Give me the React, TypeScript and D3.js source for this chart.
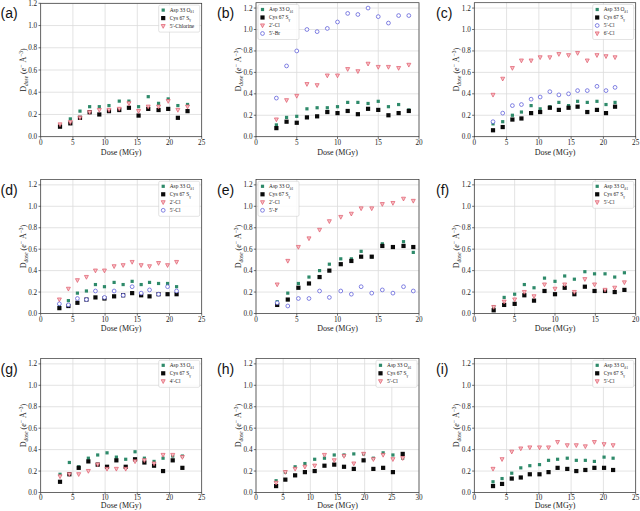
import React from 'react';
import * as d3 from 'd3';

// ---------- data ----------
const aX = [3.0, 4.6, 6.1, 7.6, 9.1, 10.6, 12.2, 13.7, 15.2, 16.7, 18.3, 19.8, 21.3, 22.8];
const aAsp = [0.10, 0.16, 0.23, 0.27, 0.27, 0.28, 0.32, 0.32, 0.27, 0.36, 0.30, 0.34, 0.28, 0.29];
const aCys = [0.09, 0.12, 0.17, 0.22, 0.20, 0.23, 0.24, 0.26, 0.19, 0.25, 0.24, 0.25, 0.17, 0.23];
const aCl5 = [0.11, 0.13, 0.17, 0.22, 0.24, 0.24, 0.25, 0.30, 0.23, 0.27, 0.27, 0.32, 0.24, 0.27];

const bX = [2.5, 3.75, 5, 6.25, 7.5, 8.75, 10, 11.25, 12.5, 13.75, 15, 16.25, 17.5, 18.75];
const bAsp = [0.11, 0.18, 0.19, 0.26, 0.27, 0.27, 0.28, 0.32, 0.32, 0.31, 0.33, 0.28, 0.30, 0.25];
const bCys = [0.08, 0.14, 0.13, 0.18, 0.19, 0.23, 0.22, 0.24, 0.21, 0.26, 0.25, 0.20, 0.22, 0.24];
const bCl2 = [0.16, 0.34, 0.38, 0.49, 0.48, 0.57, 0.57, 0.63, 0.61, 0.68, 0.65, 0.65, 0.64, 0.67];
const bBr5 = [0.36, 0.66, 0.80, 1.00, 0.98, 1.01, 1.07, 1.15, 1.14, 1.20, 1.12, 1.06, 1.13, 1.13];

const cX = [2.9, 4.4, 5.9, 7.3, 8.8, 10.2, 11.7, 13.1, 14.6, 16.0, 17.5, 19.0, 20.4, 21.8];
const cAsp = [0.12, 0.14, 0.20, 0.23, 0.29, 0.26, 0.28, 0.32, 0.29, 0.33, 0.32, 0.33, 0.30, 0.32];
const cCys = [0.06, 0.09, 0.16, 0.17, 0.22, 0.23, 0.27, 0.25, 0.27, 0.28, 0.23, 0.25, 0.22, 0.28];
const cCl5 = [0.14, 0.22, 0.29, 0.30, 0.35, 0.37, 0.42, 0.39, 0.40, 0.43, 0.43, 0.47, 0.43, 0.46];
const cCl6 = [0.39, 0.54, 0.64, 0.71, 0.71, 0.74, 0.74, 0.77, 0.76, 0.78, 0.71, 0.76, 0.75, 0.74];

const dX = [2.9, 4.3, 5.7, 7.1, 8.5, 9.9, 11.4, 12.8, 14.2, 15.6, 16.9, 18.3, 19.7, 21.1];
const dAsp = [0.08, 0.12, 0.19, 0.21, 0.27, 0.25, 0.29, 0.27, 0.30, 0.27, 0.29, 0.28, 0.28, 0.25];
const dCys = [0.05, 0.07, 0.10, 0.13, 0.15, 0.14, 0.16, 0.17, 0.19, 0.17, 0.16, 0.18, 0.18, 0.18];
const dCl2 = [0.13, 0.23, 0.31, 0.34, 0.40, 0.40, 0.44, 0.45, 0.48, 0.45, 0.44, 0.47, 0.45, 0.48];
const dCl5 = [0.09, 0.08, 0.14, 0.13, 0.21, 0.15, 0.21, 0.17, 0.25, 0.19, 0.22, 0.18, 0.25, 0.21];

const eX = [2.6, 3.9, 5.2, 6.5, 7.8, 9.0, 10.4, 11.7, 12.9, 14.2, 15.5, 16.8, 18.1, 19.3];
const eAsp = [0.11, 0.19, 0.28, 0.34, 0.40, 0.46, 0.51, 0.51, 0.58, 0.53, 0.65, 0.62, 0.67, 0.57];
const eCys = [0.08, 0.13, 0.24, 0.28, 0.34, 0.40, 0.46, 0.49, 0.53, 0.53, 0.63, 0.62, 0.63, 0.62];
const eCl2 = [0.27, 0.49, 0.62, 0.70, 0.78, 0.86, 0.90, 0.93, 0.98, 0.98, 1.02, 1.03, 1.07, 1.05];
const eF5 = [0.10, 0.07, 0.14, 0.14, 0.21, 0.15, 0.21, 0.18, 0.25, 0.19, 0.22, 0.19, 0.25, 0.21];

const fX = [2.4, 3.7, 5.0, 6.2, 7.4, 8.7, 10.0, 11.2, 12.4, 13.7, 14.9, 16.2, 17.4, 18.6];
const fAsp = [0.06, 0.15, 0.18, 0.27, 0.24, 0.33, 0.30, 0.35, 0.32, 0.39, 0.37, 0.37, 0.34, 0.38];
const fCys = [0.03, 0.08, 0.09, 0.17, 0.12, 0.21, 0.18, 0.24, 0.18, 0.25, 0.21, 0.21, 0.20, 0.22];
const fCl5 = [0.06, 0.11, 0.13, 0.20, 0.16, 0.27, 0.23, 0.27, 0.20, 0.32, 0.27, 0.22, 0.24, 0.29];

const gX = [3.0, 4.45, 5.9, 7.4, 8.85, 10.3, 11.75, 13.2, 14.65, 16.1, 17.6, 19.0, 20.5, 22.0];
const gAsp = [0.17, 0.28, 0.24, 0.32, 0.35, 0.37, 0.33, 0.31, 0.38, 0.32, 0.29, 0.32, 0.34, 0.34];
const gCys = [0.10, 0.17, 0.23, 0.29, 0.26, 0.24, 0.30, 0.24, 0.31, 0.28, 0.25, 0.20, 0.30, 0.23];
const gCl4 = [0.15, 0.17, 0.17, 0.20, 0.26, 0.22, 0.22, 0.22, 0.29, 0.30, 0.27, 0.35, 0.35, 0.33];

const hX = [3.7, 5.4, 7.2, 9.0, 10.8, 12.6, 14.4, 16.2, 18.0, 19.8, 21.6, 23.4, 25.2, 27.0];
const hAsp = [0.11, 0.19, 0.24, 0.27, 0.31, 0.32, 0.35, 0.35, 0.36, 0.36, 0.32, 0.37, 0.35, 0.32];
const hCys = [0.06, 0.12, 0.16, 0.19, 0.20, 0.25, 0.26, 0.24, 0.22, 0.30, 0.22, 0.23, 0.19, 0.36];
const hCl5 = [0.09, 0.19, 0.22, 0.24, 0.25, 0.35, 0.30, 0.34, 0.27, 0.36, 0.31, 0.35, 0.31, 0.32];

const iX = [2.9, 4.3, 5.8, 7.2, 8.6, 10.1, 11.5, 12.9, 14.4, 15.8, 17.2, 18.6, 20.1, 21.5];
const iAsp = [0.10, 0.13, 0.18, 0.23, 0.25, 0.26, 0.30, 0.31, 0.32, 0.30, 0.30, 0.29, 0.33, 0.32];
const iCys = [0.06, 0.08, 0.13, 0.14, 0.17, 0.17, 0.19, 0.23, 0.22, 0.20, 0.21, 0.23, 0.23, 0.21];
const iCl5 = [0.22, 0.31, 0.38, 0.41, 0.42, 0.42, 0.42, 0.47, 0.44, 0.44, 0.43, 0.47, 0.45, 0.44];

// ---------- styling / layout ----------
type Kind = 'asp' | 'cys' | 'tri' | 'circ';
interface Series { kind: Kind; label: string; ys: number[] }
interface PanelDef {
  letter: string; l: number; r: number; b: number; h: number; xmax: number; ymax: number;
  xs: number[]; series: Series[]; legend: 'tl' | 'tr'; lx: number; tk: number; xl: number;
}

const SERIF = '"Liberation Serif", "DejaVu Serif", serif';
const SANS = '"Liberation Sans", Arial, sans-serif';
const GREEN = '#2e8a6a';
const BLACK = '#0a0a0a';
const RED_S = '#e0586a';
const RED_F = '#f7c0c4';
const BLUE = '#5a5ad8';

const asp = (ys: number[]): Series => ({ kind: 'asp', label: 'asp', ys });
const cys = (ys: number[]): Series => ({ kind: 'cys', label: 'cys', ys });
const tri = (label: string, ys: number[]): Series => ({ kind: 'tri', label, ys });
const circ = (label: string, ys: number[]): Series => ({ kind: 'circ', label, ys });

const COLS = [{ l: 40.7, r: 201.7, lx: 0.5 }, { l: 256, r: 419, lx: 217 }, { l: 474.3, r: 635.7, lx: 436 }];
const ROWS = [
  { b: 136.7, tk: 8.6, xl: 17.8 },
  { b: 313.5, tk: 8.6, xl: 17.8 },
  { b: 492.5, tk: 7.3, xl: 15.2 },
];

const panels: PanelDef[] = [
  { letter: '(a)', ...COLS[0], ...ROWS[0], h: 133.4, xmax: 25, ymax: 1.2, xs: aX, legend: 'tr',
    series: [asp(aAsp), cys(aCys), tri('5′-Chlorine', aCl5)] },
  { letter: '(b)', ...COLS[1], ...ROWS[0], h: 134, xmax: 20, ymax: 1.25, xs: bX, legend: 'tl',
    series: [asp(bAsp), cys(bCys), tri('2′-Cl', bCl2), circ('5′-Br', bBr5)] },
  { letter: '(c)', ...COLS[2], ...ROWS[0], h: 134, xmax: 25, ymax: 1.25, xs: cX, legend: 'tr',
    series: [asp(cAsp), cys(cCys), circ('5′-Cl', cCl5), tri('6′-Cl', cCl6)] },
  { letter: '(d)', ...COLS[0], ...ROWS[1], h: 134, xmax: 25, ymax: 1.25, xs: dX, legend: 'tr',
    series: [asp(dAsp), cys(dCys), tri('2′-Cl', dCl2), circ('5′-Cl', dCl5)] },
  { letter: '(e)', ...COLS[1], ...ROWS[1], h: 134, xmax: 20, ymax: 1.25, xs: eX, legend: 'tl',
    series: [asp(eAsp), cys(eCys), tri('2′-Cl', eCl2), circ('5′-F', eF5)] },
  { letter: '(f)', ...COLS[2], ...ROWS[1], h: 134, xmax: 20, ymax: 1.25, xs: fX, legend: 'tr',
    series: [asp(fAsp), cys(fCys), tri('5′-Cl', fCl5)] },
  { letter: '(g)', ...COLS[0], ...ROWS[2], h: 134, xmax: 25, ymax: 1.25, xs: gX, legend: 'tr',
    series: [asp(gAsp), cys(gCys), tri('4′-Cl', gCl4)] },
  { letter: '(h)', ...COLS[1], ...ROWS[2], h: 134, xmax: 30, ymax: 1.25, xs: hX, legend: 'tr',
    series: [asp(hAsp), cys(hCys), tri('5′-Cl', hCl5)] },
  { letter: '(i)', ...COLS[2], ...ROWS[2], h: 134, xmax: 25, ymax: 1.25, xs: iX, legend: 'tr',
    series: [asp(iAsp), cys(iCys), tri('5′-Cl', iCl5)] },
];

function Marker({ kind, x, y }: { kind: Kind; x: number; y: number }) {
  if (kind === 'asp') return <rect x={x - 1.6} y={y - 1.6} width={3.2} height={3.2} fill={GREEN} />;
  if (kind === 'cys') return <rect x={x - 2.1} y={y - 2.1} width={4.2} height={4.2} fill={BLACK} />;
  if (kind === 'tri') {
    const s = 2.0;
    return <path d={`M${x - s},${y - s * 0.8}L${x + s},${y - s * 0.8}L${x},${y + s * 1.1}Z`}
      fill={RED_F} stroke={RED_S} strokeWidth={0.7} />;
  }
  return <circle cx={x} cy={y} r={1.9} fill="white" stroke={BLUE} strokeWidth={0.75} />;
}

function LegendLabel({ s }: { s: Series }) {
  if (s.kind === 'asp') return <>Asp 33 O<tspan dy={1.3} fontSize={3.8}>δ1</tspan></>;
  if (s.kind === 'cys') return <>Cys 67 S<tspan dy={1.3} fontSize={3.8}>γ</tspan></>;
  return <>{s.label}</>;
}

function Panel({ p }: { p: PanelDef }) {
  const t = p.b - p.h;
  const x = d3.scaleLinear().domain([0, p.xmax]).range([p.l, p.r]);
  const y = d3.scaleLinear().domain([0, p.ymax]).range([p.b, t]);
  const xt = d3.range(0, p.xmax + 0.001, 5);
  const yt = d3.range(0, 1.2001, 0.2);
  const n = p.series.length;
  const rowH = 8;
  const boxW = 41;
  const boxH = n * rowH + 3;
  const bx = p.legend === 'tr' ? p.r - 2 - boxW : p.l + 2;
  const by = t + 1.8;
  const cx = (p.l + p.r) / 2;
  const cy = (t + p.b) / 2;
  return (
    <g>
      {xt.map(v => <line key={'gx' + v} x1={x(v)} x2={x(v)} y1={t} y2={p.b} stroke="#dcdcdc" strokeWidth={0.8} />)}
      {yt.map(v => <line key={'gy' + v} x1={p.l} x2={p.r} y1={y(v)} y2={y(v)} stroke="#dcdcdc" strokeWidth={0.8} />)}
      <rect x={p.l} y={t} width={p.r - p.l} height={p.h} fill="none" stroke="#333" strokeWidth={0.7} />
      {xt.map(v => (
        <g key={'tx' + v}>
          <line x1={x(v)} x2={x(v)} y1={p.b} y2={p.b + 2.2} stroke="#333" strokeWidth={0.7} />
          <text x={x(v)} y={p.b + p.tk} fontSize={7.2} fontFamily={SERIF} textAnchor="middle" fill="#222">{d3.format('d')(v)}</text>
        </g>
      ))}
      {yt.map(v => (
        <g key={'ty' + v}>
          <line x1={p.l - 2.2} x2={p.l} y1={y(v)} y2={y(v)} stroke="#333" strokeWidth={0.7} />
          <text x={p.l - 3.5} y={y(v) + 2.5} fontSize={7.2} fontFamily={SERIF} textAnchor="end" fill="#222">{d3.format('.1f')(v)}</text>
        </g>
      ))}
      <text x={cx} y={p.b + p.xl} fontSize={8} fontFamily={SERIF} textAnchor="middle" fill="#222">Dose (MGy)</text>
      <text transform={`translate(${p.l - 15},${cy}) rotate(-90)`} fontSize={8} fontFamily={SERIF} textAnchor="middle" fill="#222">
        D<tspan dy={1.8} fontSize={5.5} fontStyle="italic">dose</tspan><tspan dy={-1.8}> (</tspan><tspan fontStyle="italic">e</tspan><tspan dy={-3.2} fontSize={5.5}>−</tspan><tspan dy={3.2}> Å</tspan><tspan dy={-3.2} fontSize={5.5}>−3</tspan><tspan dy={3.2}>)</tspan>
      </text>
      {p.series.map((s, si) => (
        <g key={'s' + si}>
          {s.ys.map((v, i) => <Marker key={i} kind={s.kind} x={x(p.xs[i])} y={y(v)} />)}
        </g>
      ))}
      <rect x={bx} y={by} width={boxW} height={boxH} rx={1.5} fill="white" fillOpacity={0.85} stroke="#d0d0d0" strokeWidth={0.6} />
      {p.series.map((s, si) => {
        const ry = by + 5 + si * rowH;
        return (
          <g key={'l' + si}>
            <Marker kind={s.kind} x={bx + 4.5} y={ry} />
            <text x={bx + 11} y={ry + 1.9} fontSize={5.4} fontFamily={SERIF} fill="#222"><LegendLabel s={s} /></text>
          </g>
        );
      })}
      <text x={p.lx} y={t + 15} fontSize={14} fontFamily={SANS} fill="#111">{p.letter}</text>
    </g>
  );
}

export default function App() {
  return (
    <svg width={640} height={511} viewBox="0 0 640 511" style={{ position: 'absolute', left: 0, top: 0, background: 'white' }}>
      <rect width={640} height={511} fill="white" />
      {panels.map(p => <Panel key={p.letter} p={p} />)}
    </svg>
  );
}
